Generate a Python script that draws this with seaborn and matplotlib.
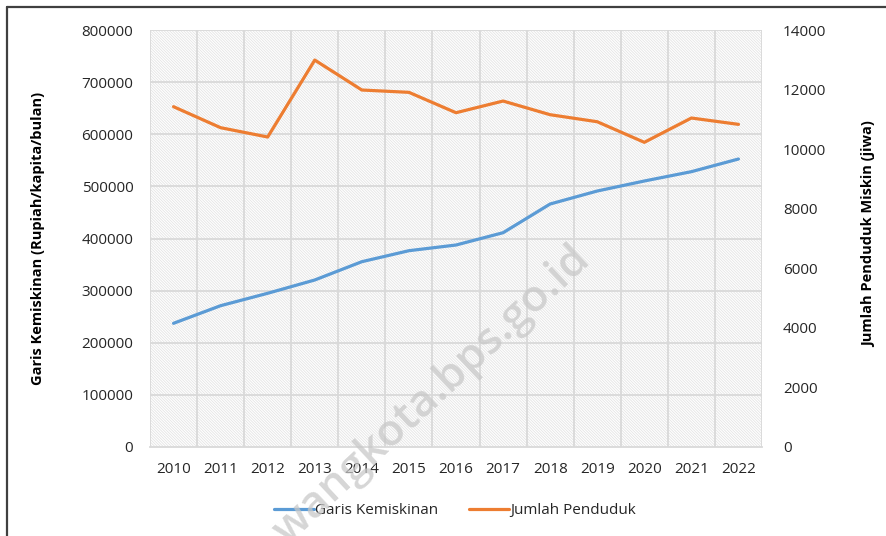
import numpy as np
import pandas as pd
import matplotlib
matplotlib.use("Agg")
import matplotlib.pyplot as plt
from matplotlib.patches import Rectangle
from matplotlib.lines import Line2D
import seaborn as sns

years = ["2010", "2011", "2012", "2013", "2014", "2015", "2016",
         "2017", "2018", "2019", "2020", "2021", "2022"]
garis_kemiskinan = [237300, 271100, 294900, 320400, 355500, 376600, 387500,
                    411100, 466200, 491100, 510300, 528200, 552500]
jumlah_penduduk = [11425, 10720, 10407, 12990, 11985, 11907, 11223,
                   11615, 11156, 10920, 10229, 11045, 10832]
left_ticks = [0, 100000, 200000, 300000, 400000, 500000, 600000, 700000, 800000]
right_ticks = [0, 2000, 4000, 6000, 8000, 10000, 12000, 14000]

df = pd.DataFrame({"pos": np.arange(len(years)), "tahun": years,
                   "garis": garis_kemiskinan, "jumlah": jumlah_penduduk})

sns.set_style("white")
plt.rcParams['font.family'] = ['Open Sans', 'DejaVu Sans']
plt.rcParams['hatch.linewidth'] = 0.6

BLUE = "#5B9BD5"
ORANGE = "#ED7D31"
GRID = "#d9d9d9"
TXT = "#262626"

fig = plt.figure(figsize=(8.87, 5.36), dpi=100)
ax = fig.add_axes([150 / 887, 1 - 447 / 536, 612 / 887, 417 / 536])
ax2 = ax.twinx()

# fine hatched plot background
ax.set_facecolor("white")
bg = Rectangle((0, 0), 1, 1, transform=ax.transAxes, facecolor="white",
               edgecolor="#e4e4e4", hatch="\\" * 12, lw=0, zorder=0)
ax.add_patch(bg)

sns.lineplot(data=df, x="pos", y="garis", ax=ax, color=BLUE, lw=2.3,
             label="Garis Kemiskinan", legend=False, zorder=5)
sns.lineplot(data=df, x="pos", y="jumlah", ax=ax2, color=ORANGE, lw=2.3,
             label="Jumlah Penduduk", legend=False, zorder=5)

n = len(years)
ax.set_xlim(-0.5, n - 0.5)
ax.set_ylim(0, 800000)
ax2.set_ylim(0, 14000)
ax.set_xticks(df["pos"])
ax.set_xticklabels(years)
ax.set_xticks(np.arange(n + 1) - 0.5, minor=True)
ax.set_yticks(left_ticks)
ax.set_yticklabels([str(v) for v in left_ticks])
ax2.set_yticks(right_ticks)
ax2.set_yticklabels([str(v) for v in right_ticks])

# grid
ax.grid(False)
ax2.grid(False)
for v in left_ticks[1:]:
    ax.axhline(v, color=GRID, lw=1.3, zorder=1)
for b in np.arange(n + 1) - 0.5:
    ax.axvline(b, color=GRID, lw=1.3, zorder=1)

for a in (ax, ax2):
    for s in a.spines.values():
        s.set_visible(False)
ax.spines["bottom"].set_visible(True)
ax.spines["bottom"].set_color(GRID)
ax.spines["bottom"].set_linewidth(1.3)

ax.tick_params(axis="x", which="major", length=0, pad=11, labelsize=11, labelcolor=TXT)
ax.tick_params(axis="x", which="minor", length=5, width=1.3, color=GRID, direction="out")
ax.tick_params(axis="y", length=0, pad=12, labelsize=11, labelcolor=TXT)
ax2.tick_params(axis="y", length=0, pad=15, labelsize=11, labelcolor=TXT)

ax.set_xlabel("")
ax.set_ylabel("Garis Kemiskinan (Rupiah/kapita/bulan)", fontsize=10.5,
              fontweight="bold", color="black")
ax.yaxis.set_label_coords(-0.172, 0.5)
ax2.set_ylabel("Jumlah Penduduk Miskin (jiwa)", fontsize=10.5,
               fontweight="bold", color="black")
ax2.yaxis.set_label_coords(1.163, 0.51)

h1, l1 = ax.get_legend_handles_labels()
h2, l2 = ax2.get_legend_handles_labels()
fig.legend(h1 + h2, l1 + l2, loc="center", bbox_to_anchor=(0.513, 0.047),
           ncol=2, frameon=False, fontsize=11, handlelength=2.6,
           handletextpad=0.1, columnspacing=2.0, labelcolor=TXT)

# watermark
fig.text(592 / 887, 1 - 262 / 536, "wangkota.bps.go.id", fontsize=32,
         fontweight="semibold", color="#c8c8c8", alpha=0.75, rotation=43,
         rotation_mode="anchor", ha="right", va="baseline", zorder=10)

# frame of the original figure
fig.add_artist(Line2D([7 / 887, 1], [1 - 7 / 536, 1 - 7 / 536],
                      transform=fig.transFigure, color="#404040", lw=1.6))
fig.add_artist(Line2D([7 / 887, 7 / 887], [0, 1 - 7 / 536],
                      transform=fig.transFigure, color="#404040", lw=1.6))

fig.savefig("out.png", dpi=100)
